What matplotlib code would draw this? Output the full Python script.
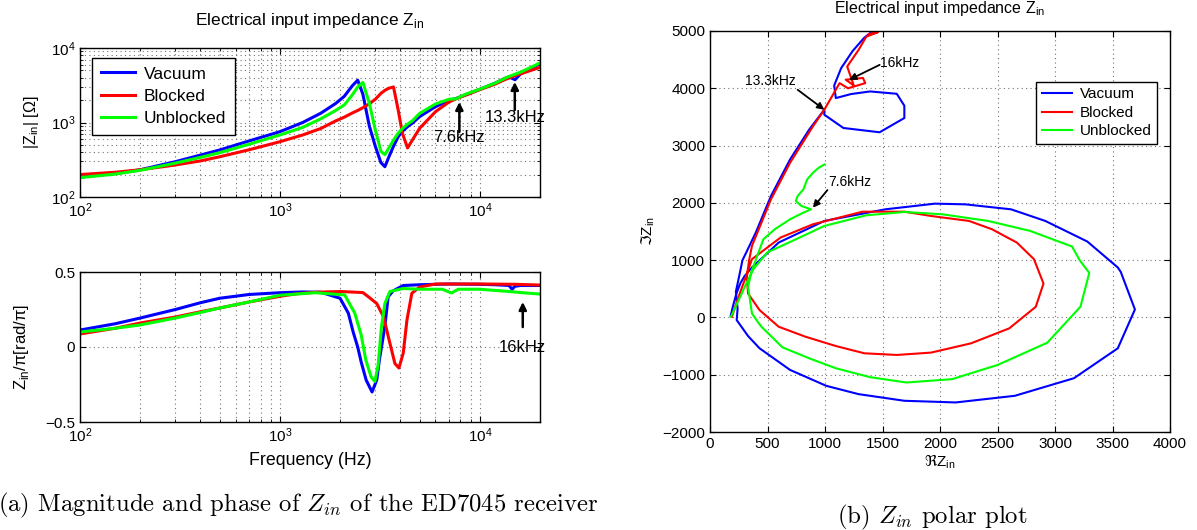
import numpy as np
import matplotlib
matplotlib.use("Agg")
import matplotlib.pyplot as plt
from matplotlib.ticker import LogLocator, NullFormatter

plt.rcParams['font.family'] = ['Liberation Sans', 'DejaVu Sans']
plt.rcParams['axes.unicode_minus'] = True

# ---------------- data ----------------
series_names = ["Vacuum", "Blocked", "Unblocked"]
series_colors = ["#0000ff", "#ff0000", "#00ff00"]

# magnitude |Z_in| (Ohm)
freq_mag = [100, 150, 200, 300, 400, 500, 700, 1000, 1300, 1600, 1900, 2100, 2300,
            2450, 2600, 2800, 3000, 3200, 3350, 3500, 3700, 3900, 4100, 4350, 4600,
            5000, 6000, 7000, 7600, 8500, 10000, 12000, 13300, 14000, 15000, 16000,
            18000, 20000]
mag_vacuum = [185, 207, 232, 298, 365, 428, 565, 753, 1000, 1330, 1800, 2250, 3100,
              3700, 2400, 900, 480, 290, 255, 340, 480, 640, 760, 880, 980,
              1200, 1630, 1980, 2100, 2350, 2790, 3400, 3900, 4100, 3750, 4500,
              5300, 6200]
mag_blocked = [200, 215, 232, 269, 305, 347, 430, 552, 680, 830, 1050, 1180, 1340,
               1450, 1580, 1780, 2050, 2460, 2700, 2880, 3000, 1500, 716, 455, 582,
               836, 1395, 1880, 2080, 2330, 2760, 3300, 3750, 3950, 4250, 4500,
               5000, 5500]
mag_unblocked = [182, 203, 228, 285, 340, 393, 510, 680, 860, 1120, 1450, 1720, 2340,
                 3000, 3450, 1820, 795, 410, 370, 450, 580, 716, 830, 950, 1057,
                 1325, 1770, 2050, 2080, 2400, 2800, 3400, 3900, 4150, 4450, 4750,
                 5500, 6300]

# phase of Z_in / pi
freq_ph_vac = [100, 150, 200, 300, 400, 500, 700, 1000, 1300, 1600, 2000, 2200, 2325,
               2450, 2550, 2700, 2890, 3050, 3150, 3250, 3350, 3480, 3690, 4140, 5000,
               7000, 10000, 12000, 14000, 14500, 15000, 16000, 18000, 20000]
ph_vacuum = [0.113, 0.155, 0.193, 0.250, 0.295, 0.325, 0.350, 0.362, 0.367, 0.365,
             0.325, 0.225, 0.10, 0.0, -0.10, -0.22, -0.30, -0.22, -0.08, 0.03, 0.14,
             0.335, 0.375, 0.41, 0.415, 0.42, 0.418, 0.415, 0.41, 0.385, 0.405,
             0.41, 0.41, 0.41]
freq_ph_blk = [100, 150, 200, 300, 400, 500, 700, 1000, 1220, 1500, 2000, 2600, 2800,
               3050, 3300, 3550, 3760, 3940, 4140, 4320, 4570, 5000, 6000, 10000,
               15000, 20000]
ph_blocked = [0.087, 0.125, 0.16, 0.20, 0.235, 0.26, 0.30, 0.338, 0.355, 0.365, 0.37,
              0.363, 0.33, 0.29, 0.20, 0.025, -0.11, -0.14, -0.04, 0.18, 0.358, 0.40,
              0.42, 0.42, 0.418, 0.413]
freq_ph_unb = [100, 150, 200, 300, 400, 500, 700, 1000, 1500, 2110, 2370, 2550, 2690,
               2860, 2985, 3100, 3220, 3350, 3550, 4140, 5000, 6500, 7210, 7800, 10000,
               14000, 17000, 20000]
ph_unblocked = [0.10, 0.125, 0.147, 0.193, 0.23, 0.26, 0.30, 0.345, 0.362, 0.347,
                0.225, 0.08, -0.087, -0.20, -0.23, -0.12, 0.135, 0.29, 0.37, 0.39,
                0.385, 0.385, 0.36, 0.385, 0.385, 0.37, 0.36, 0.353]

# polar plot (real / imaginary part of Z_in, Ohm)
re_vacuum = [180, 200, 230, 265, 300, 365, 597, 994, 1524, 1955, 2220, 2618, 2916,
             3281, 3546, 3572, 3695, 3546, 3165, 2651, 2137, 1690, 1292, 1011, 696,
             431, 331, 232, 240, 225, 262, 282, 315, 398, 530, 696, 862, 994, 994,
             1160, 1475, 1690, 1690, 1624, 1392, 1226, 1094, 1080, 1140, 1240, 1340,
             1408]
im_vacuum = [30, 200, 420, 600, 720, 872, 1307, 1684, 1887, 1986, 1974, 1887, 1684,
             1325, 872, 794, 139, -539, -1061, -1368, -1484, -1455, -1339, -1194,
             -916, -539, -325, -46, 150, 450, 800, 997, 1133, 1481, 2119, 2757, 3278,
             3626, 3539, 3307, 3232, 3481, 3696, 3904, 3945, 3899, 3829, 4050, 4350,
             4650, 4880, 4988]
re_blocked = [190, 230, 270, 310, 365, 613, 895, 1326, 1690, 1922, 2253, 2452, 2668,
              2817, 2900, 2833, 2602, 2270, 1922, 1624, 1342, 1094, 829, 597, 431,
              331, 320, 340, 365, 530, 696, 895, 994, 1127, 1200, 1350, 1330, 1180,
              1250, 1193, 1292, 1359, 1458, 1380, 1470]
im_blocked = [10, 250, 480, 700, 1017, 1394, 1626, 1846, 1846, 1771, 1684, 1539, 1307,
              1017, 591, 186, -191, -452, -614, -655, -626, -499, -336, -162, 128,
              417, 700, 1000, 1249, 2061, 2699, 3336, 3626, 4090, 4000, 4090, 4180,
              4150, 4050, 4380, 4670, 4901, 4977, 4940, 5000]
re_unblocked = [182, 249, 315, 380, 497, 779, 994, 1359, 1690, 2022, 2419, 2784, 3148,
                3215, 3298, 3221, 2933, 2502, 2104, 1707, 1392, 1094, 862, 630, 447,
                414, 365, 348, 331, 360, 464, 563, 696, 812, 878, 795, 746, 762, 812,
                845, 895, 945, 994]
im_unblocked = [12, 301, 591, 850, 1133, 1394, 1597, 1783, 1841, 1800, 1684, 1510,
                1238, 997, 777, 186, -441, -829, -1078, -1136, -1043, -887, -713, -522,
                -162, -75, 70, 301, 533, 800, 1365, 1539, 1713, 1829, 1887, 1945, 2032,
                2119, 2235, 2409, 2525, 2612, 2670]

re_ticks = [0, 500, 1000, 1500, 2000, 2500, 3000, 3500, 4000]
im_ticks = [-2000, -1000, 0, 1000, 2000, 3000, 4000, 5000]

# ---------------- figure ----------------
W, H = 1197, 530
fig = plt.figure(figsize=(W / 100, H / 100), dpi=100)

def box(x0, y0, x1, y1):
    return [x0 / W, 1 - y1 / H, (x1 - x0) / W, (y1 - y0) / H]

ax1 = fig.add_axes(box(80, 48, 540, 197))
ax2 = fig.add_axes(box(80, 272, 540, 422))
ax3 = fig.add_axes(box(710, 31, 1170, 432))

grid_kw = dict(color='0.45', linestyle=(0, (1, 3)), linewidth=0.8)
TICK = 11

for ax in (ax1, ax2, ax3):
    ax.tick_params(direction='in', top=True, right=True, labelsize=TICK,
                   length=4, width=0.8, which='major')
    ax.tick_params(direction='in', top=True, right=True, length=2, width=0.6,
                   which='minor')
    for s in ax.spines.values():
        s.set_linewidth(1.0)

mags = [mag_vacuum, mag_blocked, mag_unblocked]
phs = [(freq_ph_vac, ph_vacuum), (freq_ph_blk, ph_blocked), (freq_ph_unb, ph_unblocked)]
pol = [(re_vacuum, im_vacuum), (re_blocked, im_blocked), (re_unblocked, im_unblocked)]

# --- magnitude ---
for name, col, m in zip(series_names, series_colors, mags):
    ax1.plot(freq_mag, m, color=col, lw=2.2, label=name)
ax1.set_xscale('log')
ax1.set_yscale('log')
ax1.set_xlim(100, 20000)
ax1.set_ylim(100, 10000)
ax1.xaxis.set_minor_locator(LogLocator(base=10, subs=np.arange(2, 10)))
ax1.yaxis.set_minor_locator(LogLocator(base=10, subs=np.arange(2, 10)))
ax1.xaxis.set_minor_formatter(NullFormatter())
ax1.yaxis.set_minor_formatter(NullFormatter())
ax1.grid(True, which='both', **grid_kw)
ax1.set_ylabel('|Z$_\\mathregular{in}$| [Ω]', fontsize=11.5)
ax1.yaxis.set_label_coords(-0.105, 0.5)
ax1.yaxis.label.set_va('center')
leg1 = ax1.legend(loc='upper left', bbox_to_anchor=(0.026, 0.935), fontsize=12.5,
                  frameon=True, fancybox=False, edgecolor='black', framealpha=1,
                  handlelength=2.0, borderpad=0.5, labelspacing=0.42,
                  handletextpad=0.5, borderaxespad=0.0)
leg1.get_frame().set_linewidth(1.0)
for l in leg1.get_lines():
    l.set_linewidth(2.2)

arrow_kw = dict(arrowstyle='-|>', color='black', lw=1.8, mutation_scale=11,
                shrinkA=0, shrinkB=0)
ax1.annotate('', xy=(7900, 1885), xytext=(7900, 745), arrowprops=arrow_kw)
ax1.text(7900, 638, '7.6kHz', ha='center', va='center', fontsize=12)
ax1.annotate('', xy=(14960, 3500), xytext=(14960, 1473), arrowprops=arrow_kw)
ax1.text(14960, 1150, '13.3kHz', ha='center', va='center', fontsize=12, clip_on=False)

# --- phase ---
for col, (f, p) in zip(series_colors, phs):
    ax2.plot(f, p, color=col, lw=2.2)
ax2.set_xscale('log')
ax2.set_xlim(100, 20000)
ax2.set_yticks([-0.5, 0, 0.5])
ax2.set_yticklabels(['\u22120.5', '0', '0.5'])
ax2.set_ylim(-0.5, 0.5)
ax2.xaxis.set_minor_locator(LogLocator(base=10, subs=np.arange(2, 10)))
ax2.xaxis.set_minor_formatter(NullFormatter())
ax2.grid(True, which='major', **grid_kw)
ax2.grid(True, which='minor', axis='x', **grid_kw)
ax2.set_ylabel('Z$_\\mathregular{in}$/π[rad/π]', fontsize=12)
ax2.yaxis.set_label_coords(-0.128, 0.5)
ax2.yaxis.label.set_va('center')
ax2.set_xlabel('Frequency (Hz)', fontsize=12.8)
ax2.xaxis.set_label_coords(0.5, -0.255)
ax2.xaxis.label.set_va('center')
ax2.annotate('', xy=(16400, 0.30), xytext=(16400, 0.133), arrowprops=arrow_kw)
ax2.text(16400, 0.0, '16kHz', ha='center', va='center', fontsize=12, clip_on=False)

# --- polar ---
for name, col, (re, im) in zip(series_names, series_colors, pol):
    ax3.plot(re, im, color=col, lw=1.5, label=name)
ax3.set_xticks(re_ticks)
ax3.set_yticks(im_ticks)
ax3.set_yticklabels([str(v).replace('-', '\u2212') for v in im_ticks])
ax3.set_xlim(0, 4000)
ax3.set_ylim(-2000, 5000)
ax3.grid(True, which='major', **grid_kw)
ax3.set_xlabel('$\\Re$Z$_\\mathregular{in}$', fontsize=11)
ax3.xaxis.set_label_coords(0.5, -0.074)
ax3.xaxis.label.set_va('center')
ax3.set_ylabel('$\\Im$Z$_\\mathregular{in}$', fontsize=11)
ax3.yaxis.set_label_coords(-0.135, 0.5)
ax3.yaxis.label.set_va('center')
leg3 = ax3.legend(loc='upper right', bbox_to_anchor=(0.972, 0.873), fontsize=11,
                  frameon=True, fancybox=False, edgecolor='black', framealpha=1,
                  handlelength=2.0, borderpad=0.35, labelspacing=0.3,
                  handletextpad=0.5, borderaxespad=0.0)
leg3.get_frame().set_linewidth(1.0)

arrow_kw2 = dict(arrowstyle='-|>', color='black', lw=1.3, mutation_scale=10,
                 shrinkA=0, shrinkB=0)
ax3.annotate('', xy=(1210, 4148), xytext=(1475, 4409), arrowprops=arrow_kw2)
ax3.text(1650, 4438, '16kHz', ha='center', va='center', fontsize=10)
ax3.annotate('', xy=(994, 3626), xytext=(762, 3974), arrowprops=arrow_kw2)
ax3.text(522, 4119, '13.3kHz', ha='center', va='center', fontsize=10)
ax3.annotate('', xy=(895, 1916), xytext=(1021, 2223), arrowprops=arrow_kw2)
ax3.text(1218, 2362, '7.6kHz', ha='center', va='center', fontsize=10)

# titles
fig.text(310 / W, 1 - 20 / H, 'Electrical input impedance Z$_\\mathregular{in}$',
         ha='center', va='center', fontsize=12.5)
fig.text(940 / W, 1 - 8 / H, 'Electrical input impedance Z$_\\mathregular{in}$',
         ha='center', va='center', fontsize=11.5)

# captions
fig.text(298 / W, 1 - 505 / H, '(a) Magnitude and phase of $Z_{in}$ of the ED7045 receiver',
         ha='center', va='center', fontsize=17.8, family='cmr10', math_fontfamily='cm')
fig.text(932 / W, 1 - 517 / H, '(b) $Z_{in}$ polar plot',
         ha='center', va='center', fontsize=17.8, family='cmr10', math_fontfamily='cm')

fig.savefig('out.png', dpi=100)
